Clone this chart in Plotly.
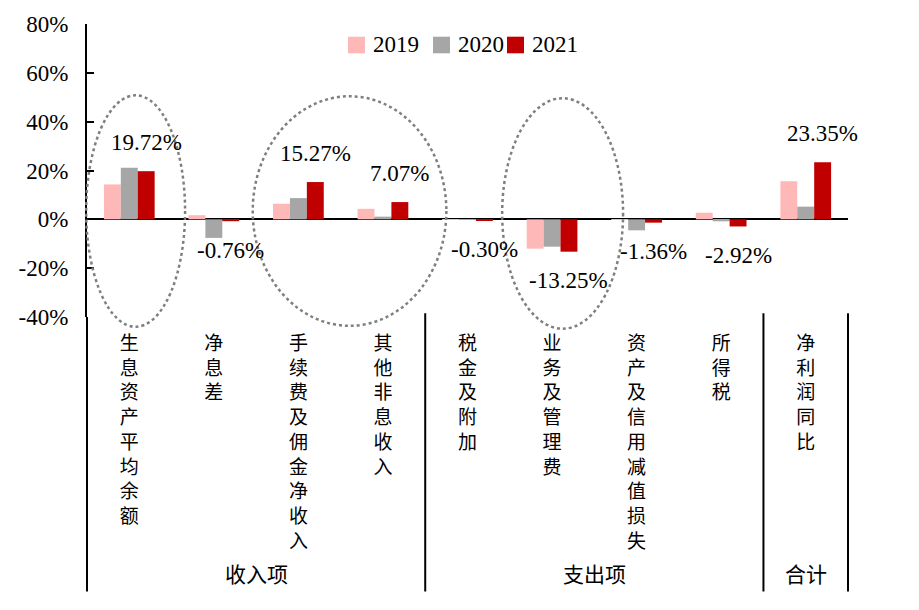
import plotly.graph_objects as go

# Categories (vertical Chinese labels) and year-on-year contributions, %
categories = ["生息资产平均余额", "净息差", "手续费及佣金净收入", "其他非息收入",
              "税金及附加", "业务及管理费", "资产及信用减值损失", "所得税", "净利润同比"]
years = ["2019", "2020", "2021"]
v2019 = [14.3, 1.7, 6.4, 4.3, -0.1, -12.0, 0.1, 2.7, 15.6]
v2020 = [21.1, -7.6, 8.7, 1.1, -0.2, -11.2, -4.5, -0.8, 5.2]
v2021 = [19.72, -0.76, 15.27, 7.07, -0.30, -13.25, -1.36, -2.92, 23.35]
colors = ["#FFB8B8", "#A6A6A6", "#C00000"]
y_ticks = [-40, -20, 0, 20, 40, 60, 80]

# Category groups shown under the axis: (label, first index, last index)
groups = [("收入项", 0, 3), ("支出项", 4, 7), ("合计", 8, 8)]
# Dotted ellipses around highlighted categories: (x from, x to, y from, y to) in category/% units
ellipses = [(-0.51, 0.66, -44.0, 50.8), (1.46, 3.75, -43.6, 50.4), (4.41, 5.84, -44.8, 49.6)]

YMIN, YMAX = -40, 80
W, H = 919, 610
ML, MR, MT, MB = 87, 71, 17, 293
PW, PH = W - ML - MR, H - MT - MB

SERIF = "Liberation Serif, Tinos, DejaVu Serif, serif"
CJK = "Noto Sans CJK SC"

n = len(categories)


def px_x(idx):
    """category index -> paper x"""
    return (idx + 0.5) / n


def py_y(val):
    """value in % -> paper y"""
    return (val - YMIN) / (YMAX - YMIN)


fig = go.Figure()
for name, vals, col in zip(years, [v2019, v2020, v2021], colors):
    fig.add_trace(go.Bar(x=list(range(n)), y=vals, name=name, marker_color=col,
                         marker_line_width=0, showlegend=False))

# Value labels for 2021 (third bar in each group)
bar_w = (1 - 0.4) / 3
for i, v in enumerate(v2021):
    fig.add_annotation(x=i + bar_w, y=v, text=f"{v:.2f}%", showarrow=False,
                       yshift=29 if v >= 0 else -29, xanchor="center", yanchor="middle",
                       font=dict(family=SERIF, size=23, color="black"))

shapes = []
# Dotted ellipses
for x0, x1, y0, y1 in ellipses:
    shapes.append(dict(type="circle", xref="paper", yref="paper",
                       x0=px_x(x0), x1=px_x(x1), y0=py_y(y0), y1=py_y(y1),
                       line=dict(color="#7F7F7F", width=2.5, dash="dot")))

# Group separators below the plot
bottom = (MT + PH - 598) / PH
bounds = sorted({g[1] for g in groups} | {groups[-1][2] + 1})
for b in bounds:
    shapes.append(dict(type="line", xref="paper", yref="paper",
                       x0=b / n, x1=b / n, y0=0.013 if b else 0, y1=bottom,
                       line=dict(color="black", width=2)))

for label, a, b in groups:
    fig.add_annotation(xref="paper", yref="paper", x=(a + b + 1) / 2 / n,
                       y=(MT + PH - 579) / PH, text=label, showarrow=False,
                       xanchor="center", yanchor="middle",
                       font=dict(family=CJK, size=21, color="black"))

# Legend drawn as boxes and labels across the top
lx = 348
for name, col in zip(years, colors):
    x0 = (lx - ML) / PW
    x1 = (lx + 17 - ML) / PW
    shapes.append(dict(type="rect", xref="paper", yref="paper", x0=x0, x1=x1,
                       y0=(MT + PH - 47) / PH, y1=(MT + PH - 30) / PH,
                       fillcolor=col, line=dict(width=0)))
    fig.add_annotation(xref="paper", yref="paper", x=(lx + 23 - ML) / PW,
                       y=(MT + PH - 38) / PH, text=name, showarrow=False,
                       xanchor="left", yanchor="middle",
                       font=dict(family=SERIF, size=23, color="black"))
    lx += 85 if name == "2019" else 74

fig.update_layout(
    width=W, height=H,
    margin=dict(l=ML, r=MR, t=MT, b=MB),
    barmode="group", bargap=0.4, bargroupgap=0,
    plot_bgcolor="white", paper_bgcolor="white",
    shapes=shapes,
    font=dict(family=SERIF),
    xaxis=dict(tickmode="array", tickvals=list(range(n)),
               ticktext=["<br>".join(c) for c in categories],
               tickfont=dict(family=CJK, size=19, color="black"),
               range=[-0.5, n - 0.5], showline=False, showgrid=False,
               zeroline=False, ticks="", tickangle=0, ticklabelstandoff=13),
    yaxis=dict(range=[YMIN, YMAX], tickmode="array", tickvals=y_ticks,
               ticktext=[f"{t}%" for t in y_ticks],
               showgrid=False, showline=True, linecolor="black",
               linewidth=2, ticks="inside", ticklen=7, tickwidth=2, tickcolor="black",
               zeroline=True, zerolinecolor="black", zerolinewidth=1.5,
               tickfont=dict(family=SERIF, size=23, color="black"),
               ticklabelstandoff=12),
)

fig.write_html("out.html")
